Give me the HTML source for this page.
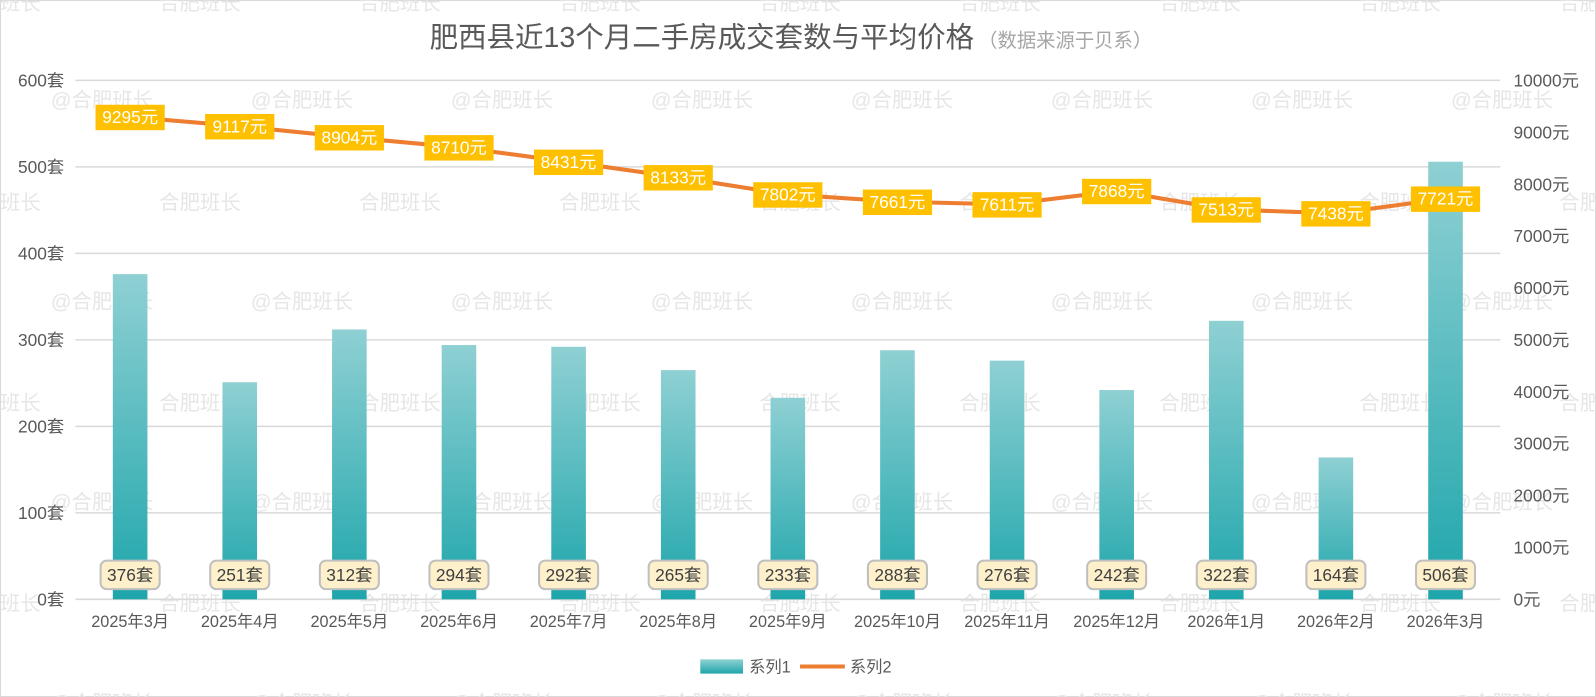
<!DOCTYPE html>
<html><head><meta charset="utf-8">
<style>
html,body{margin:0;padding:0;background:#fff;}
#wrap{position:relative;width:1596px;height:697px;overflow:hidden;font-family:"Liberation Sans","Noto Sans CJK SC",sans-serif;}
svg text{font-family:"Liberation Sans","Noto Sans CJK SC",sans-serif;}
</style></head>
<body>
<div id="wrap">
<svg id="chart" width="1596" height="697" viewBox="0 0 1568 685" preserveAspectRatio="none" xmlns="http://www.w3.org/2000/svg">
<defs>
<linearGradient id="barGrad" x1="0" y1="0" x2="0" y2="1">
<stop offset="0" stop-color="#8fd0d3"/><stop offset="1" stop-color="#1ea6ab"/>
</linearGradient>
</defs>
<rect x="0.5" y="0.5" width="1567" height="684" fill="#fff" stroke="#d9d9d9"/>
<g id="wm"></g>
<g id="grid"></g>
<g id="bars"></g>
<g id="line"></g>
<g id="labels"></g>
<g id="axes"></g>
<text x="777" y="46" text-anchor="middle"><tspan font-size="28" fill="#595959">肥西县近13个月二手房成交套数与平均价格</tspan><tspan font-size="19" fill="#a6a6a6" dx="4">（数据来源于贝系）</tspan></text>
<g>
<rect x="688" y="648" width="42" height="14" fill="url(#barGrad)"/>
<text x="736" y="661" font-size="16" fill="#595959">系列1</text>
<line x1="786" y1="655" x2="830" y2="655" stroke="#ed7d31" stroke-width="4"/>
<text x="835" y="661" font-size="16" fill="#595959">系列2</text>
</g>
</svg>
</div>
<script>
const categories=["2025年3月","2025年4月","2025年5月","2025年6月","2025年7月","2025年8月","2025年9月","2025年10月","2025年11月","2025年12月","2026年1月","2026年2月","2026年3月"];
const counts=[376,251,312,294,292,265,233,288,276,242,322,164,506];
const prices=[9295,9117,8904,8710,8431,8133,7802,7661,7611,7868,7513,7438,7721];
const leftTicks=[0,100,200,300,400,500,600];
const rightTicks=[0,1000,2000,3000,4000,5000,6000,7000,8000,9000,10000];

const NS="http://www.w3.org/2000/svg";
const X0=74,X1=1474,Y0=589,Y1=79;
const band=(X1-X0)/categories.length;
function xc(i){return X0+band*(i+0.5);}
function yL(v){return Y0-(v/600)*(Y0-Y1);}
function yR(v){return Y0-(v/10000)*(Y0-Y1);}
function mk(tag,attrs,parent,txt){const e=document.createElementNS(NS,tag);for(const k in attrs)e.setAttribute(k,attrs[k]);if(txt!==undefined)e.textContent=txt;parent.appendChild(e);return e;}

const wm=document.getElementById('wm');
[97,295,492,690].forEach(y=>{for(let x=50;x<1600;x+=196.5){const t=mk('text',{x:x,y:y+8,'font-size':20,fill:'#e6e6e6'},wm,'@合肥班长');

}});
[2,198,395,592].forEach(y=>{for(let x=-40;x<1600;x+=196.5){const t=mk('text',{x:x,y:y+8,'font-size':20,fill:'#e6e6e6'},wm,'合肥班长');

}});

const grid=document.getElementById('grid'),axes=document.getElementById('axes');
leftTicks.forEach(v=>{const y=yL(v);
const l=mk('line',{x1:X0,x2:X1,y1:y,y2:y,stroke:'#d9d9d9','stroke-width':1.5},grid);


const t=mk('text',{x:63,y:y+6,'font-size':17,fill:'#595959','text-anchor':'end'},axes,v+'套');

});
rightTicks.forEach(v=>{const y=yR(v);
const t=mk('text',{x:1487,y:y+6,'font-size':17,fill:'#595959'},axes,v+'元');

});
categories.forEach((c,i)=>{const t=mk('text',{x:xc(i),y:616,'font-size':16,fill:'#595959','text-anchor':'middle'},axes,c);

});

const bars=document.getElementById('bars'),labels=document.getElementById('labels');
counts.forEach((v,i)=>{const y=yL(v);
const r=mk('rect',{x:xc(i)-17,y:y,width:34,height:Y0-y,fill:'url(#barGrad)'},bars);


const g=mk('g',{},labels);


mk('rect',{x:xc(i)-29,y:551,width:58,height:28,rx:6,fill:'#fdf0cb',stroke:'#bfbfbf','stroke-width':2},g);
mk('text',{x:xc(i),y:571,'font-size':17,fill:'#404040','text-anchor':'middle'},g,v+'套');});

const lg=document.getElementById('line');
const pts=prices.map((v,i)=>xc(i)+','+yR(v)).join(' ');
const pl=mk('polyline',{points:pts,fill:'none',stroke:'#ed7d31','stroke-width':4,'stroke-linejoin':'round'},lg);


prices.forEach((v,i)=>{const y=yR(v);
const g=mk('g',{},labels);


mk('rect',{x:xc(i)-34,y:y-12,width:68,height:25,fill:'#ffc000'},g);
mk('text',{x:xc(i),y:y+6,'font-size':17,fill:'#fff','text-anchor':'middle'},g,v+'元');});
</script>
</body></html>
